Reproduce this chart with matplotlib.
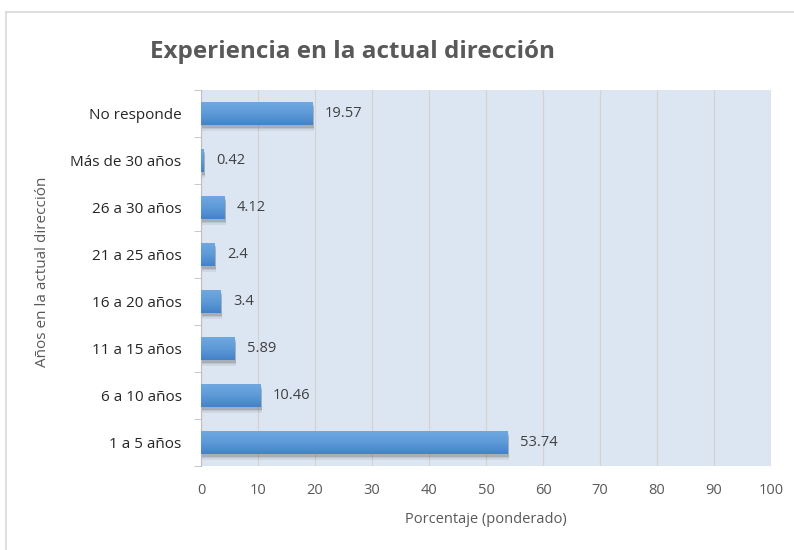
import numpy as np
import matplotlib
matplotlib.use("Agg")
import matplotlib.pyplot as plt
import matplotlib.patheffects as pe
from matplotlib.lines import Line2D
from matplotlib.colors import LinearSegmentedColormap

plt.rcParams['font.family'] = ['Open Sans', 'DejaVu Sans']

# === datos ===
categorias = ["1 a 5 años", "6 a 10 años", "11 a 15 años", "16 a 20 años",
              "21 a 25 años", "26 a 30 años", "Más de 30 años", "No responde"]
porcentajes = [53.74, 10.46, 5.89, 3.4, 2.4, 4.12, 0.42, 19.57]
etiquetas = ["53.74", "10.46", "5.89", "3.4", "2.4", "4.12", "0.42", "19.57"]
x_ticks = [0, 10, 20, 30, 40, 50, 60, 70, 80, 90, 100]

TXT = "#595959"
fig = plt.figure(figsize=(7.94, 5.5), dpi=100)
ax = fig.add_axes([201 / 794, 1 - 466 / 550, 570 / 794, 376 / 550])
ax.set_facecolor("#DCE6F2")

# sombra suave debajo de las barras
sombra = [pe.SimplePatchShadow(offset=(1, -d), shadow_rgbFace="#5a5a5a", alpha=a)
          for d, a in [(4, 0.10), (3, 0.15), (2, 0.2)]]
y = np.arange(len(categorias))
bars = ax.barh(y, porcentajes, height=0.49, color="#5B9BD5", zorder=3,
               path_effects=sombra + [pe.Normal()])

# degradado vertical dentro de cada barra
cmap = LinearSegmentedColormap.from_list("azul", ["#4482C9", "#5E9BD8", "#71A9E0"])
grad = np.linspace(0, 1, 64).reshape(-1, 1)
for b in bars:
    x0, y0, w, h = b.get_x(), b.get_y(), b.get_width(), b.get_height()
    im = ax.imshow(grad, cmap=cmap, aspect="auto", origin="lower",
                   extent=[x0, x0 + w, y0, y0 + h], zorder=4)
    im.set_clip_path(b)

for b, lab in zip(bars, etiquetas):
    ax.annotate(lab, (b.get_width(), b.get_y() + b.get_height() / 2),
                xytext=(9, 0), textcoords="offset points", va="center", ha="left",
                fontsize=10.5, color="#404040", zorder=5)

ax.set_xlim(0, 100)
ax.set_ylim(-0.5, len(categorias) - 0.5)
ax.set_xticks(x_ticks)
ax.set_xticklabels([str(v) for v in x_ticks])
ax.set_yticks(y)
ax.set_yticklabels(categorias)
ax.set_yticks(np.arange(-0.5, len(categorias)), minor=True)
ax.tick_params(axis="y", which="major", length=0, pad=14, labelsize=11, labelcolor="#262626")
ax.tick_params(axis="y", which="minor", length=5, color="#BFBFBF", direction="out")
ax.tick_params(axis="x", length=0, pad=12, labelsize=10.5, labelcolor=TXT)

ax.grid(axis="x", color="#D3D3D3", linewidth=0.9, zorder=1)
ax.set_axisbelow(True)
for s in ["top", "right", "bottom"]:
    ax.spines[s].set_visible(False)
ax.spines["left"].set_color("#BFBFBF")

ax.set_xlabel("Porcentaje (ponderado)", fontsize=10.5, color=TXT, labelpad=10)
fig.text(43 / 794, 1 - 272 / 550, "Años en la actual dirección", rotation=90,
         ha="center", va="center", fontsize=11, color=TXT)
fig.text(352 / 794, 1 - 52 / 550, "Experiencia en la actual dirección",
         ha="center", va="center", fontsize=17.5, fontweight="bold", color=TXT)

# marco exterior
fig.add_artist(Line2D([6 / 794, 6 / 794], [0, 1 - 12 / 550], color="#D9D9D9", lw=1.2))
fig.add_artist(Line2D([6 / 794, 1], [1 - 12 / 550, 1 - 12 / 550], color="#D9D9D9", lw=1.2))

fig.savefig("out.png", dpi=100)
